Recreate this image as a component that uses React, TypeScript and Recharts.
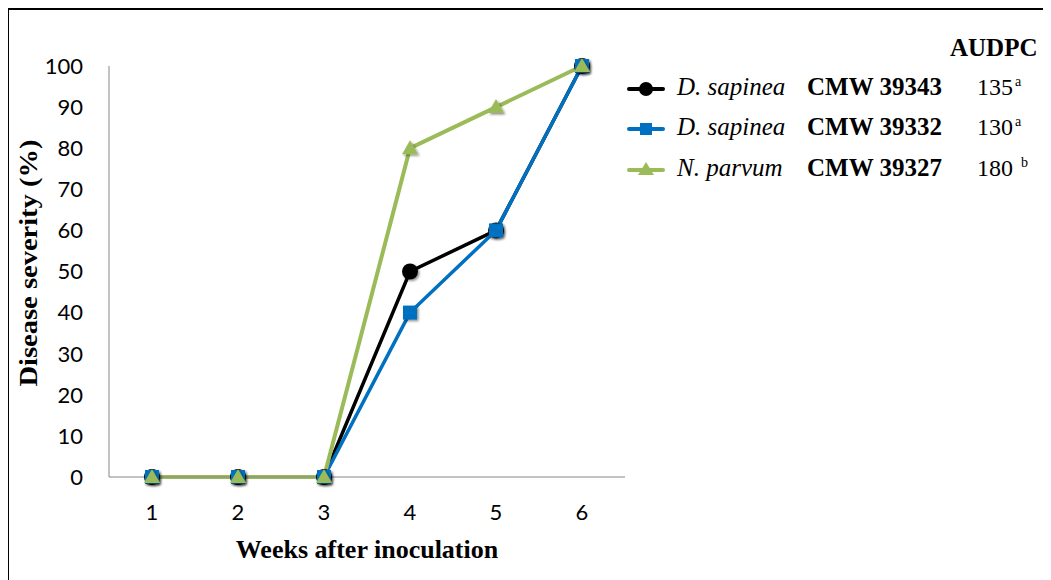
import { LineChart, Line, XAxis, YAxis } from "recharts";

// weeks after inoculation
const weeks = ["1", "2", "3", "4", "5", "6"];

// disease severity (%) per isolate
const dSapinea39343 = [0, 0, 0, 50, 60, 100];
const dSapinea39332 = [0, 0, 0, 40, 60, 100];
const nParvum39327 = [0, 0, 0, 80, 90, 100];

const yTicks = [0, 10, 20, 30, 40, 50, 60, 70, 80, 90, 100];

// legend pieces
const species = ["D. sapinea", "D. sapinea", "N. parvum"];
const strains = ["CMW 39343", "CMW 39332", "CMW 39327"];
const audpc = ["135", "130", "180"];
const letters = ["a", "a", "b"];

const BLACK = "#000000";
const BLUE = "#0070C0";
const GREEN = "#9BBB59";
const SERIF = "'Liberation Serif', 'Times New Roman', serif";

const data = weeks.map((w, i) => ({
  week: w,
  s1: dSapinea39343[i],
  s2: dSapinea39332[i],
  s3: nParvum39327[i],
}));

function circleDot(p: any) {
  return <circle key={p.index} cx={p.cx} cy={p.cy} r={8} fill={BLACK} filter="url(#mkShadow)" />;
}

function squareDot(p: any) {
  return (
    <rect key={p.index} x={p.cx - 7} y={p.cy - 7} width={14} height={14} fill={BLUE} filter="url(#mkShadow)" />
  );
}

function triangleDot(p: any) {
  const pts = `${p.cx - 8},${p.cy + 6} ${p.cx + 8},${p.cy + 6} ${p.cx},${p.cy - 8}`;
  return <polygon key={p.index} points={pts} fill={GREEN} filter="url(#mkShadow)" />;
}

function LegendMarker({ i, y }: { i: number; y: number }) {
  const color = [BLACK, BLUE, GREEN][i];
  return (
    <g>
      <line x1={620} x2={654} y1={y} y2={y} stroke={color} strokeWidth={4} strokeLinecap="round" />
      {i === 0 && <circle cx={637} cy={y} r={7} fill={color} />}
      {i === 1 && <rect x={631} y={y - 6} width={12} height={12} fill={color} />}
      {i === 2 && <polygon points={`${629},${y + 5} ${645},${y + 5} ${637},${y - 8}`} fill={color} />}
    </g>
  );
}

export default function App() {
  const rowY = [79, 119, 160];
  const baseY = [85, 125, 166];

  return (
    <div
      style={{
        position: "relative",
        width: 1041,
        height: 570,
        marginLeft: -1,
        borderTop: "2px solid #000",
        borderLeft: "2px solid #000",
        background: "#fff",
      }}
    >
      <LineChart
        width={1041}
        height={570}
        data={data}
        margin={{ top: 56, right: 425, left: 40, bottom: 43 }}
      >
        <XAxis
          dataKey="week"
          padding={{ left: 43, right: 43 }}
          axisLine={{ stroke: "#868686" }}
          tickLine={false}
          tickSize={0}
          tickMargin={27}
          height={60}
          tick={{ fill: "#000", fontSize: 22, fontFamily: "Lato, sans-serif" }}
          label={{
            content: () => (
              <text x={358} y={548} textAnchor="middle" fontFamily={SERIF} fontWeight="bold" fontSize={26} fill="#000">
                Weeks after inoculation
              </text>
            ),
          }}
        />
        <YAxis
          width={60}
          domain={[0, 100]}
          ticks={yTicks}
          interval={0}
          axisLine={{ stroke: "#868686" }}
          tickLine={false}
          tickSize={0}
          tickMargin={26}
          tick={{ fill: "#000", fontSize: 22, fontFamily: "Lato, sans-serif" }}
          label={{
            content: () => (
              <text
                x={28}
                y={253}
                transform="rotate(-90 28 253)"
                textAnchor="middle"
                fontFamily={SERIF}
                fontWeight="bold"
                fontSize={25}
                textLength={247}
                lengthAdjust="spacingAndGlyphs"
                fill="#000"
              >
                Disease severity (%)
              </text>
            ),
          }}
        />
        <Line
          dataKey="s1"
          stroke={BLACK}
          strokeWidth={3.5}
          dot={circleDot}
          activeDot={false}
          isAnimationActive={false}
        />
        <Line
          dataKey="s2"
          stroke={BLUE}
          strokeWidth={3.5}
          dot={squareDot}
          activeDot={false}
          isAnimationActive={false}
        />
        <Line
          dataKey="s3"
          stroke={GREEN}
          strokeWidth={4}
          dot={triangleDot}
          activeDot={false}
          isAnimationActive={false}
        />
      </LineChart>

      <svg
        width={1041}
        height={570}
        style={{ position: "absolute", left: 0, top: 0, pointerEvents: "none" }}
      >
        <defs>
          <filter id="mkShadow" x="-50%" y="-50%" width="200%" height="200%">
            <feDropShadow dx="1.5" dy="1.5" stdDeviation="1.2" floodColor="#000" floodOpacity="0.45" />
          </filter>
        </defs>
        <text x={941} y={46} fontFamily={SERIF} fontWeight="bold" fontSize={25} fill="#000">
          AUDPC
        </text>
        {species.map((sp, i) => (
          <g key={i}>
            <LegendMarker i={i} y={rowY[i]} />
            <text x={668} y={baseY[i]} fontFamily={SERIF} fontStyle="italic" fontSize={25} fill="#000">
              {sp}
            </text>
            <text x={798} y={baseY[i]} fontFamily={SERIF} fontWeight="bold" fontSize={25} fill="#000">
              {strains[i]}
            </text>
            <text x={968} y={baseY[i]} fontFamily={SERIF} fontSize={24} fill="#000">
              {audpc[i]}
            </text>
            <text x={i === 2 ? 1012 : 1006} y={baseY[i] - 9} fontFamily={SERIF} fontSize={14} fill="#000">
              {letters[i]}
            </text>
          </g>
        ))}
      </svg>
    </div>
  );
}
